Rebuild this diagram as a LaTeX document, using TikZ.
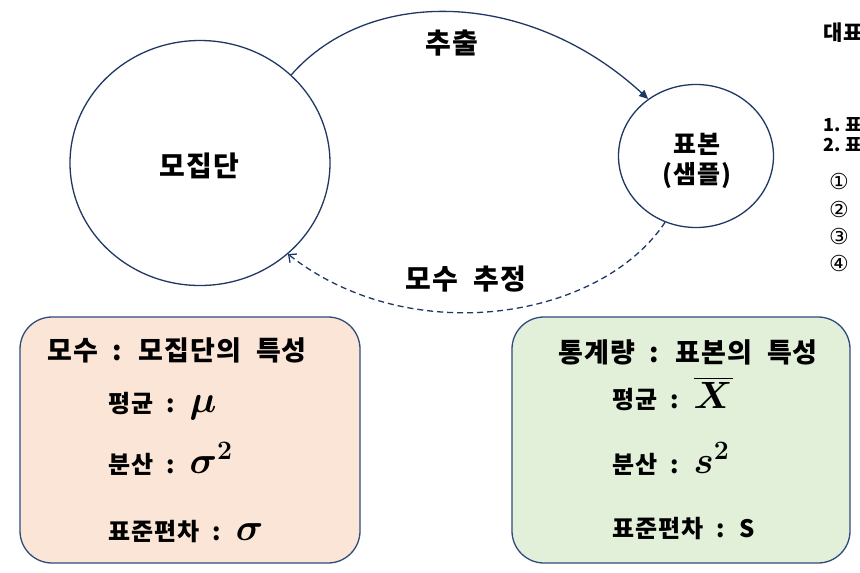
\RequirePackage{fix-cm}
\documentclass[tikz,border=0pt]{standalone}
\usepackage{amsmath}
\usepackage{fontspec}
\setmainfont{Noto Sans CJK KR}[WordSpace=2, LetterSpace=4]
\newfontfamily\symfont{DejaVu Sans}
\usetikzlibrary{arrows.meta,shapes.geometric}
\definecolor{navy}{HTML}{1F3864}
\definecolor{boxline}{HTML}{2F4B7C}
\definecolor{peach}{HTML}{FBE5D6}
\definecolor{mint}{HTML}{E2F0D9}
\newcommand\bigmath[1]{{\fontsize{38}{40}\selectfont\boldmath$#1$}}
\begin{document}
\begin{tikzpicture}[x=1pt,y=-1pt,
  circ/.style={ellipse, draw=navy, line width=1.3pt, fill=white, inner sep=0pt},
  card/.style={draw=boxline, line width=1.3pt, rounded corners=32pt, inner sep=0pt},
  big/.style={inner sep=0pt, font=\bfseries\fontsize{28}{32}\selectfont},
  mid/.style={inner sep=0pt, font=\bfseries\fontsize{25}{32}\selectfont, align=center},
  ttl/.style={inner sep=0pt, anchor=base west, font=\bfseries\fontsize{27}{30}\selectfont},
  item/.style={inner sep=0pt, anchor=base west, font=\bfseries\fontsize{24}{28}\selectfont},
  side/.style={inner sep=0pt, anchor=base west, font=\bfseries\fontsize{18}{20}\selectfont},
  circnum/.style={inner sep=0pt, anchor=base west, font=\symfont\fontsize{22}{24}\selectfont},
  conn/.style={draw=navy, line width=1.3pt}]
\clip (0,0) rectangle (860,573);
\fill[white] (0,0) rectangle (860,573);

% circles
\node[circ, minimum width=260pt, minimum height=245pt] (pop) at (200,163) {};
\node[big, anchor=base] (popt) at (199,176) {모집단};
\node[circ, minimum width=155pt, minimum height=143pt] (smp) at (696,156) {};
\node[mid] (smpt) at (697,161) {표본\\[-2pt](샘플)};

% connectors
\draw[conn, -{Triangle[length=9pt,width=8pt]}] (pop.44) .. controls (370,-15) and (530,-10) .. (smp.130);
\draw[conn, dash pattern=on 6pt off 4pt, -{Straight Barb[length=6pt,width=11pt]}] (smp.245) .. controls (600,320) and (410,350) .. (pop.-46);
\node[big, anchor=base] (lab1) at (452,53) {추출};
\node[big, anchor=base] (lab2) at (466,289) {모수 추정};

% boxes
\node[card, fill=peach, minimum width=340pt, minimum height=246pt] (pbox) at (190,440) {};
\node[card, fill=mint, minimum width=338pt, minimum height=246pt] (sbox) at (681,440) {};

\node[ttl] (pt) at (47,360) {모수 : 모집단의 특성};
\node[item] (pm) at (108,412) {평균 : \bigmath{\mu}};
\node[item] (pv) at (108,473) {분산 : \bigmath{\sigma^{2}}};
\node[item] (ps) at (108,540) {표준편차 : \bigmath{\sigma}};

\node[ttl] (st) at (558,362) {통계량 : 표본의 특성};
\node[item] (sm) at (612,408) {평균 : \bigmath{\overline{X}}};
\node[item] (sv) at (612,473) {분산 : \bigmath{s^{2}}};
\node[item] (ss) at (612,537) {표준편차 : S};

% right side list (cut by the edge, as in the reference)
\node[inner sep=0pt, anchor=base west, font=\bfseries\fontsize{21}{24}\selectfont] (r0) at (823,40) {대표};
\node[side] (r1) at (823,131) {1.\hspace{4pt}표};
\node[side] (r2) at (823,151) {2.\hspace{4pt}표};
\node[circnum] (c1) at (829,189) {①};
\node[circnum] (c2) at (829,217) {②};
\node[circnum] (c3) at (829,244) {③};
\node[circnum] (c4) at (829,271) {④};
\end{tikzpicture}
\end{document}
